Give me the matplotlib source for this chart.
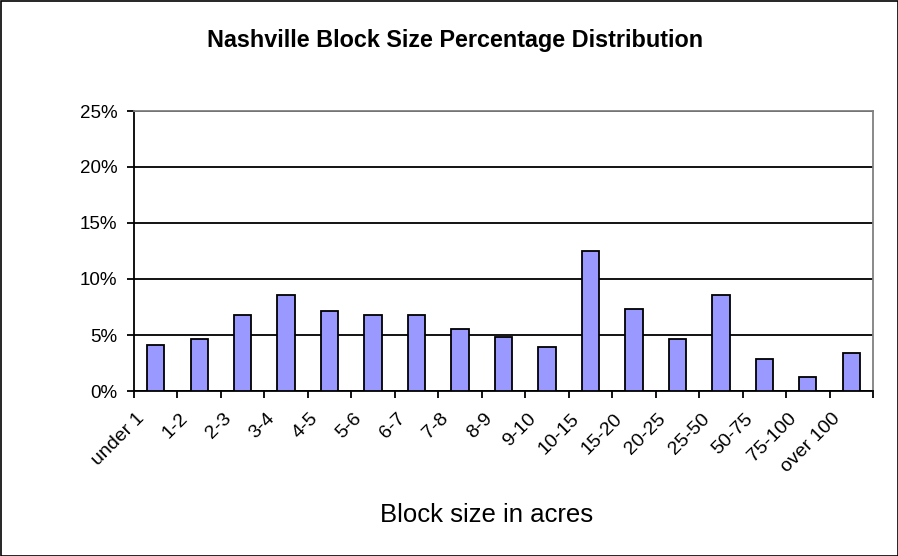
import matplotlib
matplotlib.use("Agg")
import matplotlib.pyplot as plt
from matplotlib.patches import Rectangle
from matplotlib.ticker import FixedLocator, PercentFormatter
import numpy as np

categories = ["under 1", "1-2", "2-3", "3-4", "4-5", "5-6", "6-7", "7-8", "8-9",
              "9-10", "10-15", "15-20", "20-25", "25-50", "50-75", "75-100", "over 100"]
percentages = [4.1, 4.64, 6.79, 8.57, 7.17, 6.79, 6.79, 5.54, 4.85,
               3.96, 12.5, 7.35, 4.67, 8.57, 2.86, 1.28, 3.42]
y_ticks = [0, 5, 10, 15, 20, 25]

plt.rcParams["font.family"] = ["Liberation Sans", "DejaVu Sans"]

fig = plt.figure(figsize=(8.98, 5.56), dpi=100)
fig.patch.set_facecolor("white")
ax = fig.add_axes([134 / 898, 1 - 391 / 556, (873 - 134) / 898, (391 - 111) / 556])

x = np.arange(len(categories))
ax.bar(x, percentages, width=0.4, color="#9999FF", edgecolor="black", linewidth=1.3, zorder=3)

ax.set_xlim(-0.5, len(categories) - 0.5)
ax.set_ylim(0, 25)
ax.set_yticks(y_ticks)
ax.yaxis.set_major_formatter(PercentFormatter(decimals=0))
ax.yaxis.grid(True, color="black", linewidth=1.3, zorder=1)
ax.set_axisbelow(True)

# category labels: slanted, ending slightly left of each bar's centre
label_offset = 0.32
ax.set_xticks(x - label_offset)
ax.set_xticklabels(categories, rotation=45, ha="right", va="center",
                   rotation_mode="anchor", fontsize=14)
ax.xaxis.set_minor_locator(FixedLocator(np.arange(-0.5, len(categories), 1.0)))
ax.tick_params(axis="x", which="major", length=0, pad=18)
ax.tick_params(axis="x", which="minor", length=5, width=1.3, direction="out", color="black")
ax.tick_params(axis="y", length=5, width=1.3, direction="out", labelsize=13.5, pad=7)

for side in ("left", "bottom"):
    ax.spines[side].set_color("black")
    ax.spines[side].set_linewidth(1.3)
for side in ("top", "right"):
    ax.spines[side].set_color("#808080")
    ax.spines[side].set_linewidth(1.3)

fig.text(455 / 898, 1 - 40 / 556, "Nashville Block Size Percentage Distribution",
         ha="center", va="center", fontsize=16.8, fontweight="bold")
fig.text(487 / 898, 1 - 515 / 556, "Block size in acres",
         ha="center", va="center", fontsize=18.5)

fig.patches.append(Rectangle((0.5 / 898, 0.5 / 556), 897 / 898, 555 / 556,
                             transform=fig.transFigure, fill=False,
                             edgecolor="black", linewidth=1.2))

fig.savefig("out.png", dpi=100)
